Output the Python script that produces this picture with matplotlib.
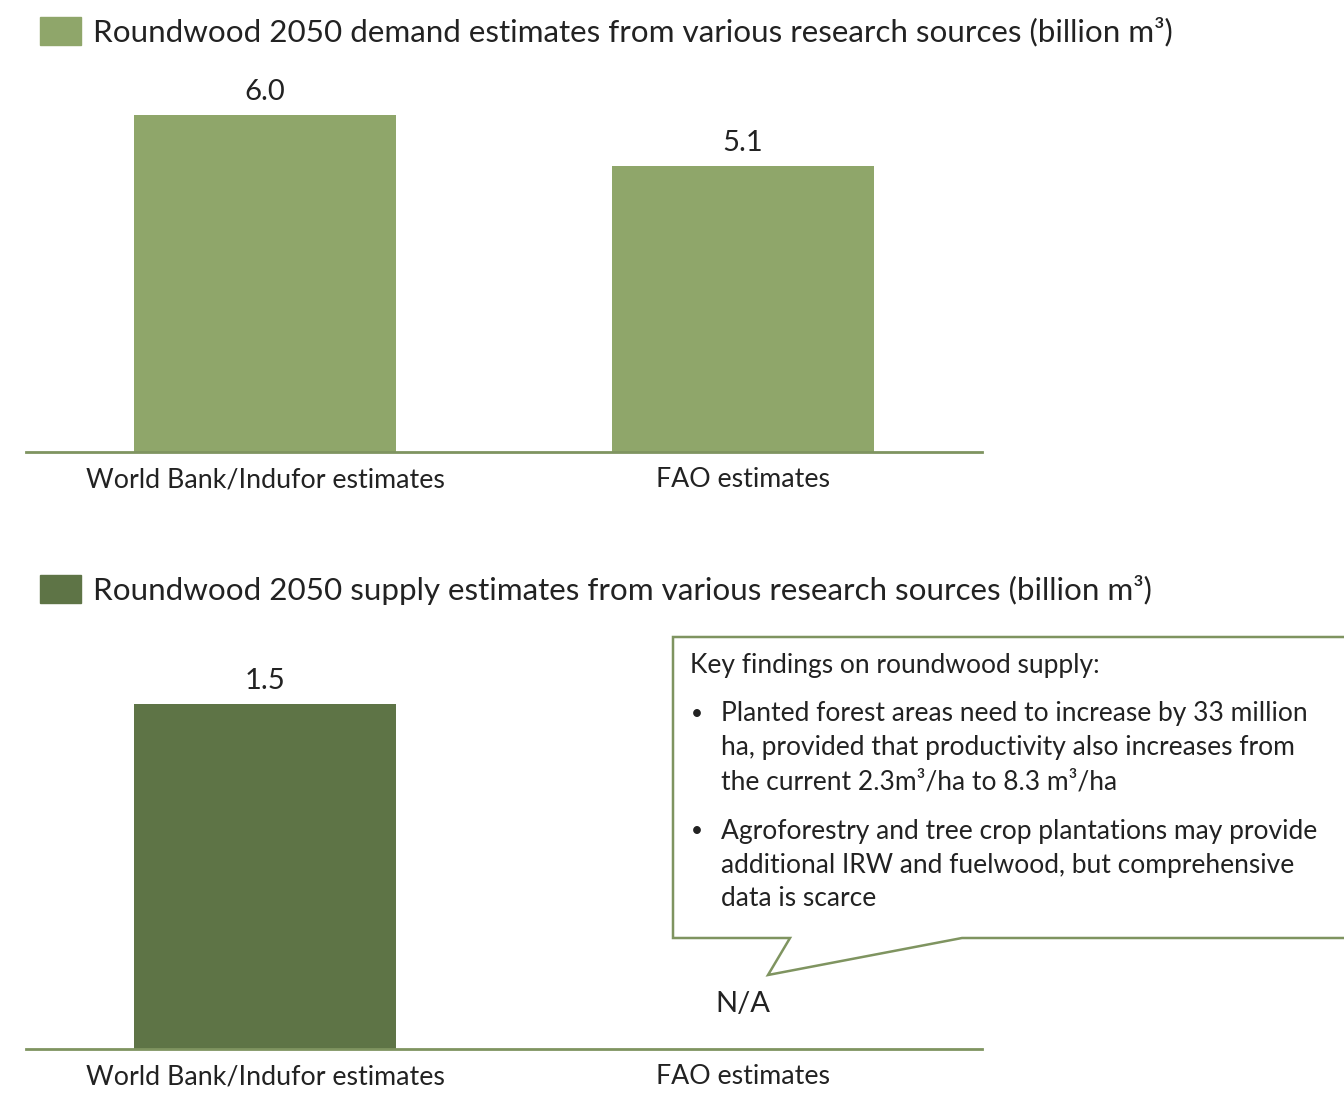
import matplotlib
matplotlib.use('Agg')
from matplotlib import pyplot as plt
from matplotlib.patches import Polygon, Rectangle

plt.rcParams['font.family'] = ['Lato', 'DejaVu Sans']

sources = ['World Bank/Indufor estimates', 'FAO estimates']
demand = [6.0, 5.1]
supply = [1.5, None]
demand_title = 'Roundwood 2050 demand estimates from various research sources (billion m³)'
supply_title = 'Roundwood 2050 supply estimates from various research sources (billion m³)'
box_head = 'Key findings on roundwood supply:'
box_bullets = [
    ['Planted forest areas need to increase by 33 million',
     'ha, provided that productivity also increases from',
     'the current 2.3m³/ha to 8.3 m³/ha'],
    ['Agroforestry and tree crop plantations may provide',
     'additional IRW and fuelwood, but comprehensive',
     'data is scarce'],
]

light = '#8fa66a'
dark = '#5e7446'
line_c = '#7f9460'
text_c = '#222222'

W, H = 1344, 1093
fig = plt.figure(figsize=(W / 100, H / 100), dpi=100)


def fx(x):
    return x / W


def fy(y):
    return 1 - y / H


def draw_bars(ax, vals, color, ymax):
    x = range(len(sources))
    for i, v in zip(x, vals):
        if v is None:
            # no estimate available
            ax.text(i, ymax * 0.11, 'N/A', ha='center', va='center',
                    fontsize=21, color=text_c)
            continue
        ax.bar(i, v, width=0.55, color=color, zorder=2)
        ax.text(i, v + ymax * 0.025, f'{v:.1f}', ha='center', va='bottom',
                fontsize=21, color=text_c)
    ax.set_xlim(-0.5, 1.5)
    ax.set_ylim(0, ymax)
    ax.set_xticks(list(x))
    ax.set_xticklabels(sources, fontsize=19.3, color=text_c)
    ax.tick_params(axis='x', length=0, pad=11)
    ax.set_yticks([])
    for s in ['top', 'right', 'left']:
        ax.spines[s].set_visible(False)
    ax.spines['bottom'].set_color(line_c)
    ax.spines['bottom'].set_linewidth(2)


ax1 = fig.add_axes([fx(26), fy(452), fx(956), 392 / H])
draw_bars(ax1, demand, light, 6.98)

ax2 = fig.add_axes([fx(26), fy(1049), fx(956), 409 / H])
draw_bars(ax2, supply, dark, 1.778)

# legend-style titles
for y0, col, title in [(17, light, demand_title), (575, dark, supply_title)]:
    fig.patches.append(Rectangle((fx(40), fy(y0 + 28)), fx(41), 28 / H,
                                 transform=fig.transFigure, color=col))
    fig.text(fx(93), fy(y0 + 15), title, fontsize=22.6, color=text_c,
             va='center', ha='left')

# callout box
pts = [(673, 637), (1350, 637), (1350, 938), (962, 938), (768, 975),
       (790, 938), (673, 938)]
fig.patches.append(Polygon([(fx(a), fy(b)) for a, b in pts], closed=True,
                           transform=fig.transFigure, facecolor='white',
                           edgecolor=line_c, linewidth=1.8))
fig.text(fx(690), fy(665), box_head, fontsize=19, color=text_c, va='center')
yy = 714
for bullet in box_bullets:
    fig.text(fx(691), fy(yy), '•', fontsize=15, color=text_c, va='center')
    for ln in bullet:
        fig.text(fx(721), fy(yy), ln, fontsize=19, color=text_c, va='center')
        yy += 34
    yy += 15

fig.savefig('out.png', dpi=100)
